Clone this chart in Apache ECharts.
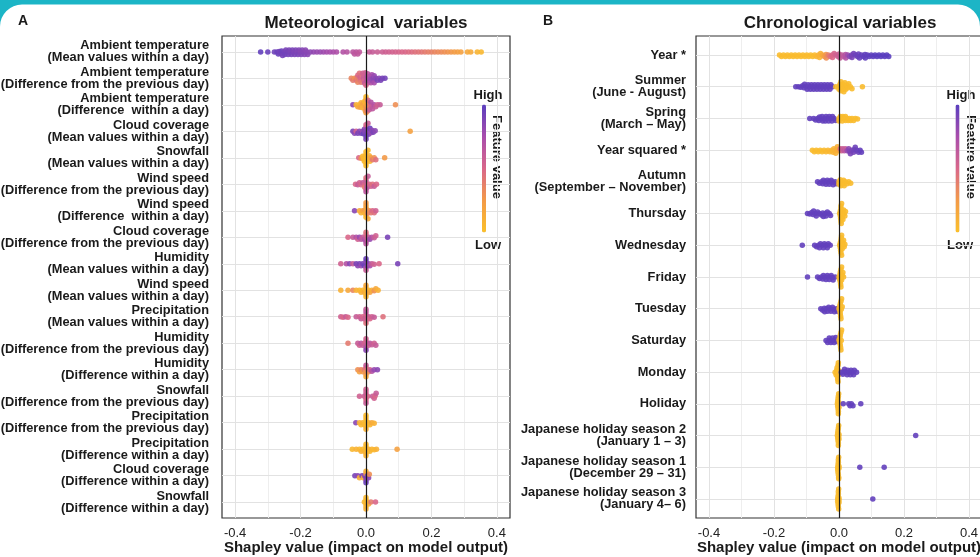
<!DOCTYPE html>
<html><head><meta charset="utf-8">
<script src="https://cdn.jsdelivr.net/npm/echarts@6/dist/echarts.min.js"></script>
<style>html,body{margin:0;padding:0;background:#fff}#c{width:980px;height:557px}</style>
</head><body><div id="c"></div>
<script>
// ---------- tick labels / grid values ----------
const xTickLabels = [-0.4, -0.2, 0, 0.2, 0.4];
const xMinorGrid = [-0.3, -0.1, 0.1, 0.3];
const xMajorGrid = [-0.4, -0.2, 0.2, 0.4];

// ---------- categories ----------
const metLabels = [
  "Ambient temperature\n(Mean values within a day)",
  "Ambient temperature\n(Difference from the previous day)",
  "Ambient temperature\n(Difference  within a day)",
  "Cloud coverage\n(Mean values within a day)",
  "Snowfall\n(Mean values within a day)",
  "Wind speed\n(Difference from the previous day)",
  "Wind speed\n(Difference  within a day)",
  "Cloud coverage\n(Difference from the previous day)",
  "Humidity\n(Mean values within a day)",
  "Wind speed\n(Mean values within a day)",
  "Precipitation\n(Mean values within a day)",
  "Humidity\n(Difference from the previous day)",
  "Humidity\n(Difference within a day)",
  "Snowfall\n(Difference from the previous day)",
  "Precipitation\n(Difference from the previous day)",
  "Precipitation\n(Difference within a day)",
  "Cloud coverage\n(Difference within a day)",
  "Snowfall\n(Difference within a day)"
];
const chronoLabels = [
  "Year *", "Summer\n(June - August)", "Spring\n(March – May)", "Year squared *",
  "Autumn\n(September – November)", "Thursday", "Wednesday", "Friday", "Tuesday",
  "Saturday", "Monday", "Holiday",
  "Japanese holiday season 2\n(January 1 – 3)",
  "Japanese holiday season 1\n(December 29 – 31)",
  "Japanese holiday season 3\n(January 4– 6)"
];

// ---------- series values: [Shapley value, feature value (0 low .. 1 high)] ----------
const metTempMean = [[-0.322,0.97],[-0.30,0.95],[-0.28,0.93],[-0.272,0.94],[-0.268,0.95],[-0.265,0.92],[-0.26,0.93],[-0.258,0.94],[-0.255,0.91],[-0.25,0.92],[-0.248,0.93],[-0.245,0.9],[-0.24,0.91],[-0.238,0.92],[-0.235,0.9],[-0.23,0.89],[-0.228,0.91],[-0.225,0.9],[-0.22,0.88],[-0.218,0.9],[-0.215,0.89],[-0.21,0.87],[-0.208,0.9],[-0.205,0.88],[-0.2,0.86],[-0.198,0.88],[-0.195,0.87],[-0.19,0.86],[-0.188,0.87],[-0.185,0.85],[-0.18,0.85],[-0.178,0.86],[-0.17,0.84],[-0.16,0.82],[-0.15,0.8],[-0.14,0.8],[-0.13,0.78],[-0.12,0.76],[-0.11,0.75],[-0.1,0.74],[-0.09,0.72],[-0.07,0.7],[-0.058,0.68],[-0.04,0.66],[-0.035,0.65],[-0.03,0.65],[-0.025,0.64],[-0.02,0.63],[0.01,0.6],[0.02,0.6],[0.035,0.58],[0.05,0.57],[0.06,0.56],[0.07,0.55],[0.08,0.54],[0.09,0.53],[0.1,0.52],[0.11,0.5],[0.12,0.5],[0.13,0.48],[0.14,0.47],[0.15,0.45],[0.16,0.44],[0.17,0.42],[0.18,0.4],[0.19,0.38],[0.2,0.37],[0.21,0.35],[0.22,0.33],[0.23,0.32],[0.24,0.3],[0.25,0.28],[0.26,0.26],[0.27,0.24],[0.28,0.22],[0.29,0.2],[0.31,0.16],[0.32,0.14],[0.34,0.08],[0.352,0.05]];
const metTempDiffPrev = [[-0.045,0.35],[-0.04,0.4],[-0.035,0.3],[-0.03,0.45],[-0.028,0.35],[-0.025,0.5],[-0.025,0.35],[-0.022,0.4],[-0.02,0.45],[-0.018,0.55],[-0.015,0.5],[-0.015,0.4],[-0.012,0.45],[-0.01,0.55],[-0.008,0.6],[-0.006,0.5],[-0.005,0.55],[-0.004,0.6],[-0.002,0.55],[0,0.6],[0,0.5],[0.002,0.65],[0.004,0.7],[0.005,0.65],[0.006,0.6],[0.008,0.7],[0.01,0.75],[0.012,0.7],[0.015,0.8],[0.015,0.7],[0.018,0.75],[0.02,0.8],[0.022,0.85],[0.025,0.8],[0.025,0.75],[0.03,0.85],[0.035,0.9],[0.04,0.85],[0.045,0.9],[0.05,0.9],[0.058,0.92]];
const metTempDiffDay = [[-0.04,0.85],[-0.03,0.1],[-0.025,0.15],[-0.02,0.05],[-0.018,0.2],[-0.015,0.1],[-0.012,0.15],[-0.01,0.1],[-0.008,0.2],[-0.005,0.15],[-0.004,0.05],[-0.003,0.1],[-0.002,0.25],[-0.001,0.1],[0,0.15],[0,0.05],[0,0.2],[0,0.3],[0.001,0.1],[0.002,0.3],[0.003,0.15],[0.004,0.4],[0.005,0.2],[0.006,0.5],[0.008,0.3],[0.01,0.6],[0.012,0.5],[0.015,0.7],[0.018,0.6],[0.02,0.65],[0.025,0.7],[0.03,0.6],[0.035,0.55],[0.043,0.6],[0.09,0.3]];
const metCloudMean = [[-0.04,0.9],[-0.035,0.85],[-0.03,0.55],[-0.025,0.9],[-0.02,0.85],[-0.015,0.9],[-0.01,0.8],[-0.008,0.95],[-0.005,0.9],[-0.003,0.85],[0,0.9],[0,0.7],[0,0.95],[0,0.5],[0,0.9],[0.002,0.85],[0.004,0.9],[0.006,0.6],[0.008,0.9],[0.01,0.85],[0.012,0.95],[0.015,0.8],[0.018,0.85],[0.022,0.9],[0.028,0.85],[0.135,0.2]];
const metSnowMean = [[-0.022,0.5],[-0.015,0.3],[-0.01,0.05],[-0.008,0.05],[-0.005,0.05],[-0.003,0.05],[0,0.02],[0,0.05],[0,0.03],[0,0.04],[0,0.02],[0.002,0.05],[0.004,0.03],[0.006,0.05],[0.008,0.05],[0.01,0.1],[0.012,0.05],[0.015,0.2],[0.02,0.4],[0.025,0.3],[0.03,0.45],[0.057,0.25]];
const metWindDiffPrev = [[-0.032,0.5],[-0.025,0.6],[-0.02,0.55],[-0.015,0.5],[-0.01,0.6],[-0.005,0.5],[-0.004,0.4],[0,0.55],[0,0.6],[0,0.5],[0,0.45],[0,0.65],[0.003,0.55],[0.004,0.7],[0.006,0.6],[0.01,0.5],[0.015,0.55],[0.02,0.45],[0.025,0.6],[0.032,0.5]];
const metWindDiffDay = [[-0.035,0.85],[-0.02,0.15],[-0.015,0.1],[-0.01,0.2],[-0.005,0.1],[-0.003,0.3],[0,0.15],[0,0.1],[0,0.2],[0,0.05],[0,0.25],[0,0.1],[0.003,0.2],[0.005,0.35],[0.006,0.15],[0.01,0.3],[0.015,0.4],[0.02,0.5],[0.025,0.45],[0.03,0.55]];
const metCloudDiffPrev = [[-0.055,0.5],[-0.04,0.6],[-0.03,0.7],[-0.025,0.55],[-0.02,0.8],[-0.015,0.65],[-0.01,0.6],[-0.005,0.7],[0,0.6],[0,0.5],[0,0.75],[0,0.45],[0,0.65],[0.004,0.55],[0.008,0.6],[0.012,0.8],[0.018,0.7],[0.025,0.6],[0.03,0.55],[0.066,0.9]];
const metHumMean = [[-0.077,0.55],[-0.06,0.7],[-0.05,0.85],[-0.04,0.6],[-0.03,0.9],[-0.025,0.85],[-0.02,0.9],[-0.015,0.8],[-0.01,0.9],[-0.005,0.95],[0,0.9],[0,0.85],[0,0.7],[0,0.95],[0,0.6],[0.004,0.9],[0.008,0.85],[0.012,0.75],[0.018,0.6],[0.025,0.55],[0.04,0.5],[0.097,0.9]];
const metWindMean = [[-0.077,0.1],[-0.055,0.15],[-0.04,0.35],[-0.03,0.1],[-0.02,0.05],[-0.015,0.1],[-0.01,0.05],[-0.005,0.15],[0,0.05],[0,0.1],[0,0.05],[0,0.15],[0,0.08],[0.004,0.1],[0.008,0.05],[0.012,0.2],[0.018,0.1],[0.025,0.3],[0.03,0.15],[0.037,0.1]];
const metPrecMean = [[-0.077,0.55],[-0.07,0.5],[-0.062,0.6],[-0.055,0.5],[-0.03,0.6],[-0.02,0.55],[-0.015,0.6],[-0.01,0.5],[-0.005,0.55],[0,0.6],[0,0.5],[0,0.55],[0,0.65],[0,0.45],[0,0.6],[0.004,0.55],[0.008,0.6],[0.012,0.5],[0.018,0.55],[0.025,0.6],[0.052,0.45]];
const metHumDiffPrev = [[-0.055,0.4],[-0.025,0.6],[-0.02,0.55],[-0.015,0.65],[-0.01,0.6],[-0.005,0.55],[0,0.6],[0,0.5],[0,0.7],[0,0.55],[0,0.85],[0.004,0.6],[0.008,0.55],[0.012,0.65],[0.018,0.6],[0.025,0.55],[0.03,0.6]];
const metHumDiffDay = [[-0.025,0.3],[-0.02,0.2],[-0.015,0.35],[-0.01,0.25],[-0.005,0.4],[0,0.2],[0,0.5],[0,0.3],[0,0.6],[0,0.15],[0.004,0.4],[0.008,0.3],[0.012,0.55],[0.018,0.7],[0.025,0.8],[0.035,0.85]];
const metSnowDiffPrev = [[-0.02,0.55],[-0.005,0.55],[0,0.55],[0,0.6],[0,0.5],[0,0.55],[0,0.6],[0,0.55],[0.005,0.5],[0.02,0.6],[0.025,0.55],[0.028,0.5],[0.031,0.6]];
const metPrecDiffPrev = [[-0.031,0.85],[-0.02,0.1],[-0.015,0.05],[-0.01,0.08],[-0.005,0.05],[0,0.05],[0,0.03],[0,0.08],[0,0.05],[0,0.1],[0,0.04],[0.004,0.05],[0.008,0.1],[0.012,0.05],[0.018,0.15],[0.025,0.1]];
const metPrecDiffDay = [[-0.042,0.05],[-0.03,0.1],[-0.02,0.05],[-0.015,0.1],[-0.01,0.05],[-0.005,0.08],[0,0.05],[0,0.03],[0,0.1],[0,0.05],[0,0.08],[0.004,0.05],[0.008,0.1],[0.012,0.05],[0.018,0.08],[0.025,0.05],[0.032,0.1],[0.095,0.2]];
const metCloudDiffDay = [[-0.034,0.9],[-0.025,0.85],[-0.02,0.1],[-0.012,0.9],[-0.008,0.1],[-0.004,0.85],[0,0.9],[0,0.2],[0,0.85],[0,0.1],[0,0.95],[0.004,0.9],[0.008,0.85],[0.01,0.3]];
const metSnowDiffDay = [[-0.005,0.05],[0,0.05],[0,0.03],[0,0.08],[0,0.05],[0,0.1],[0.004,0.05],[0.008,0.1],[0.015,0.4],[0.029,0.5]];

const chrYear = [[-0.183,0.03],[-0.177,0.03],[-0.171,0.03],[-0.165,0.03],[-0.159,0.03],[-0.153,0.03],[-0.147,0.03],[-0.141,0.03],[-0.135,0.03],[-0.129,0.03],[-0.123,0.03],[-0.117,0.03],[-0.111,0.03],[-0.105,0.03],[-0.099,0.03],[-0.093,0.03],[-0.087,0.03],[-0.081,0.03],[-0.075,0.04],[-0.069,0.06],[-0.063,0.08],[-0.06,0.08],[-0.057,0.1],[-0.051,0.15],[-0.045,0.22],[-0.04,0.26],[-0.039,0.3],[-0.033,0.38],[-0.027,0.45],[-0.021,0.5],[-0.02,0.5],[-0.015,0.52],[-0.009,0.55],[-0.003,0.57],[0,0.58],[0.003,0.6],[0.009,0.62],[0.015,0.65],[0.02,0.68],[0.021,0.7],[0.027,0.78],[0.033,0.85],[0.039,0.9],[0.04,0.9],[0.045,0.92],[0.051,0.94],[0.057,0.95],[0.06,0.95],[0.063,0.96],[0.069,0.97],[0.075,0.97],[0.08,0.98],[0.081,0.98],[0.087,0.98],[0.093,0.99],[0.099,0.99],[0.105,0.99],[0.111,1],[0.117,1],[0.123,1],[0.129,1],[0.135,1],[0.141,1],[0.147,1],[0.153,1]];
const chrSummer = [[-0.133,0.97],[-0.125,0.97],[-0.118,0.97],[-0.112,0.97],[-0.108,0.97],[-0.106,0.97],[-0.1,0.97],[-0.098,0.97],[-0.095,0.97],[-0.09,0.97],[-0.088,0.97],[-0.085,0.97],[-0.08,0.97],[-0.078,0.97],[-0.075,0.97],[-0.07,0.97],[-0.068,0.97],[-0.065,0.97],[-0.06,0.97],[-0.058,0.97],[-0.055,0.97],[-0.05,0.97],[-0.048,0.97],[-0.045,0.97],[-0.04,0.97],[-0.038,0.97],[-0.035,0.97],[-0.03,0.97],[-0.028,0.97],[-0.025,0.97],[-0.02,0.97],[-0.01,0.03],[0,0.03],[0,0.03],[0.003,0.03],[0.006,0.03],[0.006,0.03],[0.009,0.03],[0.012,0.03],[0.012,0.03],[0.015,0.03],[0.018,0.03],[0.018,0.03],[0.021,0.03],[0.024,0.03],[0.027,0.03],[0.03,0.03],[0.035,0.03],[0.04,0.03],[0.072,0.03]];
const chrSpring = [[-0.09,0.97],[-0.078,0.97],[-0.072,0.97],[-0.066,0.97],[-0.062,0.97],[-0.06,0.97],[-0.055,0.97],[-0.052,0.97],[-0.05,0.97],[-0.045,0.97],[-0.042,0.97],[-0.04,0.97],[-0.035,0.97],[-0.032,0.97],[-0.03,0.97],[-0.025,0.97],[-0.022,0.97],[-0.02,0.97],[-0.015,0.97],[-0.01,0.97],[0,0.03],[0,0.03],[0.004,0.03],[0.008,0.03],[0.01,0.03],[0.012,0.03],[0.016,0.03],[0.02,0.03],[0.02,0.03],[0.024,0.03],[0.028,0.03],[0.032,0.03],[0.036,0.03],[0.04,0.03],[0.045,0.03],[0.05,0.03],[0.057,0.03]];
const chrYearSq = [[-0.082,0.03],[-0.076,0.03],[-0.07,0.03],[-0.064,0.03],[-0.058,0.03],[-0.052,0.04],[-0.046,0.04],[-0.04,0.05],[-0.034,0.05],[-0.028,0.06],[-0.022,0.07],[-0.018,0.08],[-0.016,0.08],[-0.012,0.1],[-0.01,0.1],[-0.006,0.12],[-0.005,0.12],[0,0.15],[0.004,0.5],[0.008,0.55],[0.012,0.6],[0.016,0.65],[0.02,0.6],[0.025,0.8],[0.03,0.85],[0.032,0.88],[0.035,0.9],[0.04,0.9],[0.045,0.92],[0.047,0.93],[0.05,0.94],[0.055,0.95],[0.06,0.95],[0.065,0.96],[0.069,0.97]];
const chrAutumn = [[-0.066,0.97],[-0.06,0.97],[-0.054,0.97],[-0.05,0.97],[-0.048,0.97],[-0.042,0.97],[-0.04,0.97],[-0.036,0.97],[-0.03,0.97],[-0.03,0.97],[-0.024,0.97],[-0.02,0.97],[-0.018,0.97],[-0.012,0.97],[-0.008,0.97],[0,0.03],[0,0.03],[0.004,0.03],[0.006,0.03],[0.008,0.03],[0.012,0.03],[0.014,0.03],[0.016,0.03],[0.02,0.03],[0.025,0.03],[0.03,0.03],[0.036,0.03]];
const chrThursday = [[-0.097,0.97],[-0.09,0.97],[-0.084,0.97],[-0.08,0.97],[-0.078,0.97],[-0.072,0.97],[-0.07,0.97],[-0.066,0.97],[-0.06,0.97],[-0.054,0.97],[-0.05,0.97],[-0.048,0.97],[-0.042,0.97],[-0.04,0.97],[-0.036,0.97],[-0.03,0.97],[-0.026,0.97],[0.002,0.03],[0.004,0.03],[0.004,0.03],[0.005,0.03],[0.006,0.03],[0.006,0.03],[0.006,0.03],[0.007,0.03],[0.008,0.03],[0.008,0.03],[0.01,0.03],[0.01,0.03],[0.012,0.03],[0.014,0.03],[0.016,0.03],[0.018,0.03],[0.02,0.03]];
const chrWednesday = [[-0.113,0.97],[-0.075,0.97],[-0.069,0.97],[-0.063,0.97],[-0.06,0.97],[-0.057,0.97],[-0.051,0.97],[-0.048,0.97],[-0.045,0.97],[-0.039,0.97],[-0.036,0.97],[-0.033,0.97],[-0.027,0.97],[0.002,0.03],[0.004,0.03],[0.004,0.03],[0.005,0.03],[0.006,0.03],[0.006,0.03],[0.007,0.03],[0.008,0.03],[0.008,0.03],[0.01,0.03],[0.01,0.03],[0.012,0.03],[0.014,0.03],[0.016,0.03],[0.018,0.03]];
const chrFriday = [[-0.097,0.97],[-0.066,0.97],[-0.06,0.97],[-0.054,0.97],[-0.05,0.97],[-0.048,0.97],[-0.042,0.97],[-0.04,0.97],[-0.036,0.97],[-0.03,0.97],[-0.03,0.97],[-0.024,0.97],[-0.02,0.97],[-0.018,0.97],[-0.012,0.97],[0,0.03],[0.002,0.03],[0.003,0.03],[0.004,0.03],[0.004,0.03],[0.005,0.03],[0.006,0.03],[0.006,0.03],[0.007,0.03],[0.008,0.03],[0.008,0.03],[0.01,0.03],[0.012,0.03],[0.014,0.03]];
const chrTuesday = [[-0.056,0.97],[-0.05,0.97],[-0.045,0.97],[-0.044,0.97],[-0.038,0.97],[-0.035,0.97],[-0.032,0.97],[-0.026,0.97],[-0.025,0.97],[-0.02,0.97],[-0.015,0.97],[-0.014,0.97],[-0.008,0.97],[-0.005,0.97],[0,0.03],[0.002,0.03],[0.003,0.03],[0.004,0.03],[0.004,0.03],[0.005,0.03],[0.006,0.03],[0.006,0.03],[0.007,0.03],[0.008,0.03],[0.01,0.03]];
const chrSaturday = [[-0.04,0.97],[-0.035,0.97],[-0.03,0.97],[-0.03,0.97],[-0.025,0.97],[-0.02,0.97],[-0.02,0.97],[-0.015,0.97],[-0.012,0.97],[-0.01,0.97],[-0.006,0.97],[0,0.03],[0.002,0.03],[0.003,0.03],[0.004,0.03],[0.004,0.03],[0.005,0.03],[0.006,0.03],[0.006,0.03],[0.007,0.03],[0.008,0.03]];
const chrMonday = [[-0.012,0.03],[-0.009,0.03],[-0.007,0.03],[-0.006,0.03],[-0.005,0.03],[-0.005,0.03],[-0.004,0.03],[-0.003,0.03],[-0.003,0.03],[-0.002,0.03],[-0.001,0.03],[0,0.03],[0.007,0.97],[0.012,0.97],[0.015,0.97],[0.017,0.97],[0.022,0.97],[0.025,0.97],[0.027,0.97],[0.032,0.97],[0.035,0.97],[0.037,0.97],[0.042,0.97],[0.045,0.97],[0.047,0.97],[0.054,0.97]];
const chrHoliday = [[-0.005,0.03],[-0.004,0.03],[-0.004,0.03],[-0.003,0.03],[-0.003,0.03],[-0.002,0.03],[-0.002,0.03],[-0.002,0.03],[-0.001,0.03],[-0.001,0.03],[0,0.03],[0,0.03],[0.013,0.97],[0.03,0.97],[0.034,0.97],[0.038,0.97],[0.043,0.97],[0.067,0.97]];
const chrJhs2 = [[-0.005,0.03],[-0.004,0.03],[-0.004,0.03],[-0.003,0.03],[-0.003,0.03],[-0.002,0.03],[-0.002,0.03],[-0.002,0.03],[-0.001,0.03],[-0.001,0.03],[0,0.03],[0,0.03],[0.236,0.97]];
const chrJhs1 = [[-0.004,0.03],[-0.004,0.03],[-0.003,0.03],[-0.003,0.03],[-0.002,0.03],[-0.002,0.03],[-0.002,0.03],[-0.001,0.03],[-0.001,0.03],[-0.001,0.03],[0,0.03],[0,0.03],[0.064,0.97],[0.139,0.97]];
const chrJhs3 = [[-0.004,0.03],[-0.004,0.03],[-0.003,0.03],[-0.003,0.03],[-0.002,0.03],[-0.002,0.03],[-0.002,0.03],[-0.001,0.03],[-0.001,0.03],[0,0.03],[0,0.03],[0,0.03],[0.104,0.97]];

const metRows = [metTempMean, metTempDiffPrev, metTempDiffDay, metCloudMean, metSnowMean, metWindDiffPrev, metWindDiffDay, metCloudDiffPrev, metHumMean, metWindMean, metPrecMean, metHumDiffPrev, metHumDiffDay, metSnowDiffPrev, metPrecDiffPrev, metPrecDiffDay, metCloudDiffDay, metSnowDiffDay];
const chronoRows = [chrYear, chrSummer, chrSpring, chrYearSq, chrAutumn, chrThursday, chrWednesday, chrFriday, chrTuesday, chrSaturday, chrMonday, chrHoliday, chrJhs2, chrJhs1, chrJhs3];

// ---------- styling ----------
const FONT = '"Liberation Sans", Arial, Helvetica, sans-serif';
const TXT = '#1a1a1a';
const GRAD = ['#fbc02a', '#f39a48', '#d9678a', '#a84dac', '#5a3ebf'];

const chart = echarts.init(document.getElementById('c'), null, {renderer: 'canvas'});

function xAxisOpt(gi) {
  return {
    type: 'value', gridIndex: gi, min: -0.44, max: 0.44,
    axisLine: {show: false}, axisTick: {show: false}, splitLine: {show: false},
    axisLabel: {customValues: xTickLabels, formatter: v => v.toFixed(1), color: '#222', fontSize: 13, fontFamily: FONT, margin: 9},
    name: 'Shapley value (impact on model output)', nameLocation: 'middle', nameGap: 22, nameMoveOverlap: false,
    nameTextStyle: {fontWeight: 'bold', fontSize: 15, color: TXT, fontFamily: FONT}
  };
}
function yAxisOpt(gi, labels, margin) {
  const idx = labels.map((_, i) => i);
  return {
    type: 'value', gridIndex: gi, inverse: true, min: -0.6, max: labels.length - 1 + 0.6,
    axisLine: {show: false}, axisTick: {show: false}, splitLine: {show: false},
    axisLabel: {customValues: idx, formatter: v => labels[Math.round(v)], color: TXT, fontWeight: 'bold',
      fontSize: 12.8, lineHeight: 12, fontFamily: FONT, margin: margin, align: 'right'}
  };
}
function gridLineSeries(gi, n) {
  const rows = [];
  for (let i = 0; i < n; i++) rows.push({yAxis: i});
  return {
    type: 'scatter', xAxisIndex: gi, yAxisIndex: gi, data: [], silent: true,
    markLine: {
      silent: true, symbol: ['none', 'none'], label: {show: false}, animation: false, z: 1,
      lineStyle: {color: '#e2e2e2', width: 1, type: 'solid'},
      emphasis: {disabled: true},
      data: [
        ...xMajorGrid.map(v => ({xAxis: v})),
        ...xMinorGrid.map(v => ({xAxis: v, lineStyle: {color: '#eeeeee', width: 1, type: 'solid'}})),
        ...rows
      ]
    }
  };
}
function zeroLineSeries(gi) {
  return {
    type: 'scatter', xAxisIndex: gi, yAxisIndex: gi, data: [], silent: true,
    markLine: {silent: true, symbol: ['none', 'none'], label: {show: false}, animation: false, z: 8,
      emphasis: {disabled: true},
      lineStyle: {color: '#1a1a1a', width: 1.2, type: 'solid'}, data: [{xAxis: 0}]}
  };
}
function pointSeries(gi) {
  return {type: 'scatter', xAxisIndex: gi, yAxisIndex: gi, data: [], symbolSize: 5.5, z: 4,
    itemStyle: {opacity: 0.9}, silent: true, animation: false};
}

const baseOption = {
  animation: false,
  backgroundColor: '#1cb5c6',
  grid: [
    {left: 222, top: 36, width: 288, height: 482, show: true, backgroundColor: '#fff', borderColor: '#333', borderWidth: 1.2, outerBoundsMode: 'none', containLabel: false},
    {left: 696, top: 36, width: 286, height: 482, show: true, backgroundColor: '#fff', borderColor: '#333', borderWidth: 1.2, outerBoundsMode: 'none', containLabel: false}
  ],
  xAxis: [xAxisOpt(0), xAxisOpt(1)],
  yAxis: [yAxisOpt(0, metLabels, 13), yAxisOpt(1, chronoLabels, 10)],
  visualMap: [
    {type: 'continuous', min: 0, max: 1, dimension: 2, seriesIndex: [2], calculable: false, show: true,
      itemWidth: 4, itemHeight: 128, left: 482, top: 104.5, padding: 0, hoverLink: false, text: null,
      inRange: {color: GRAD}},
    {type: 'continuous', min: 0, max: 1, dimension: 2, seriesIndex: [5], calculable: false, show: true,
      itemWidth: 4, itemHeight: 128, left: 955.5, top: 104.5, padding: 0, hoverLink: false, text: null,
      inRange: {color: GRAD}}
  ],
  graphic: {elements: [
    {type: 'rect', z: -100, silent: true, shape: {x: 0, y: 4.5, width: 980, height: 560, r: [22, 22, 0, 0]}, style: {fill: '#fff'}},
    {type: 'text', left: 18, top: 14, style: {text: 'A', font: 'bold 14px ' + FONT, fill: TXT}},
    {type: 'text', left: 543, top: 14, style: {text: 'B', font: 'bold 14px ' + FONT, fill: TXT}},
    {type: 'text', x: 366, y: 23, style: {text: 'Meteorological  variables', font: 'bold 17px ' + FONT, fill: TXT, align: 'center', verticalAlign: 'middle'}},
    {type: 'text', x: 840, y: 23, style: {text: 'Chronological variables', font: 'bold 17px ' + FONT, fill: TXT, align: 'center', verticalAlign: 'middle'}},
    {type: 'text', x: 488, y: 95, style: {text: 'High', font: 'bold 13px ' + FONT, fill: TXT, align: 'center', verticalAlign: 'middle'}},
    {type: 'text', x: 488, y: 245, style: {text: 'Low', font: 'bold 13px ' + FONT, fill: TXT, align: 'center', verticalAlign: 'middle'}},
    {type: 'text', x: 497, y: 157, rotation: -Math.PI / 2, style: {text: 'Feature value', font: 'bold 13px ' + FONT, fill: TXT, align: 'center', verticalAlign: 'middle'}},
    {type: 'text', x: 961, y: 95, style: {text: 'High', font: 'bold 13px ' + FONT, fill: TXT, align: 'center', verticalAlign: 'middle'}},
    {type: 'text', x: 960, y: 245, style: {text: 'Low', font: 'bold 13px ' + FONT, fill: TXT, align: 'center', verticalAlign: 'middle'}},
    {type: 'text', x: 970.5, y: 157, rotation: -Math.PI / 2, style: {text: 'Feature value', font: 'bold 13px ' + FONT, fill: TXT, align: 'center', verticalAlign: 'middle'}}
  ]},
  series: [gridLineSeries(0, metLabels.length), zeroLineSeries(0), pointSeries(0),
           gridLineSeries(1, chronoLabels.length), zeroLineSeries(1), pointSeries(1)]
};
chart.setOption(baseOption);

// Beeswarm layout in pixel space, using the chart's own axis scales.
function swarmRow(points, rowIdx, ai, capFrac) {
  const band = Math.abs(chart.convertToPixel({yAxisIndex: ai}, 1) - chart.convertToPixel({yAxisIndex: ai}, 0));
  const cap = band * capFrac, D = 2.3, step = 0.5;
  const items = points.map(p => ({x: p[0], fv: p[1], px: chart.convertToPixel({xAxisIndex: ai}, p[0])}))
    .sort((a, b) => a.px - b.px);
  const placed = [], out = [];
  for (const it of items) {
    const near = placed.filter(q => Math.abs(q.px - it.px) < D);
    let chosen = 0, best = -1;
    for (let k = 0; ; k++) {
      const dy = (k % 2 ? 1 : -1) * Math.ceil(k / 2) * step;
      if (Math.abs(dy) > cap) break;
      let md = Infinity;
      for (const q of near) { const d = Math.hypot(q.px - it.px, q.dy - dy); if (d < md) md = d; }
      if (md >= D) { chosen = dy; break; }
      if (md > best) { best = md; chosen = dy; }
    }
    it.dy = chosen; placed.push(it);
    out.push([it.x, rowIdx + chosen / band, it.fv]);
  }
  return out;
}
const metData = [], chronoData = [];
metRows.forEach((r, i) => metData.push(...swarmRow(r, i, 0, 0.32)));
chronoRows.forEach((r, i) => chronoData.push(...swarmRow(r, i, 1, 0.37)));
chart.setOption({series: [{}, {}, {data: metData}, {}, {}, {data: chronoData}]});
</script></body></html>
